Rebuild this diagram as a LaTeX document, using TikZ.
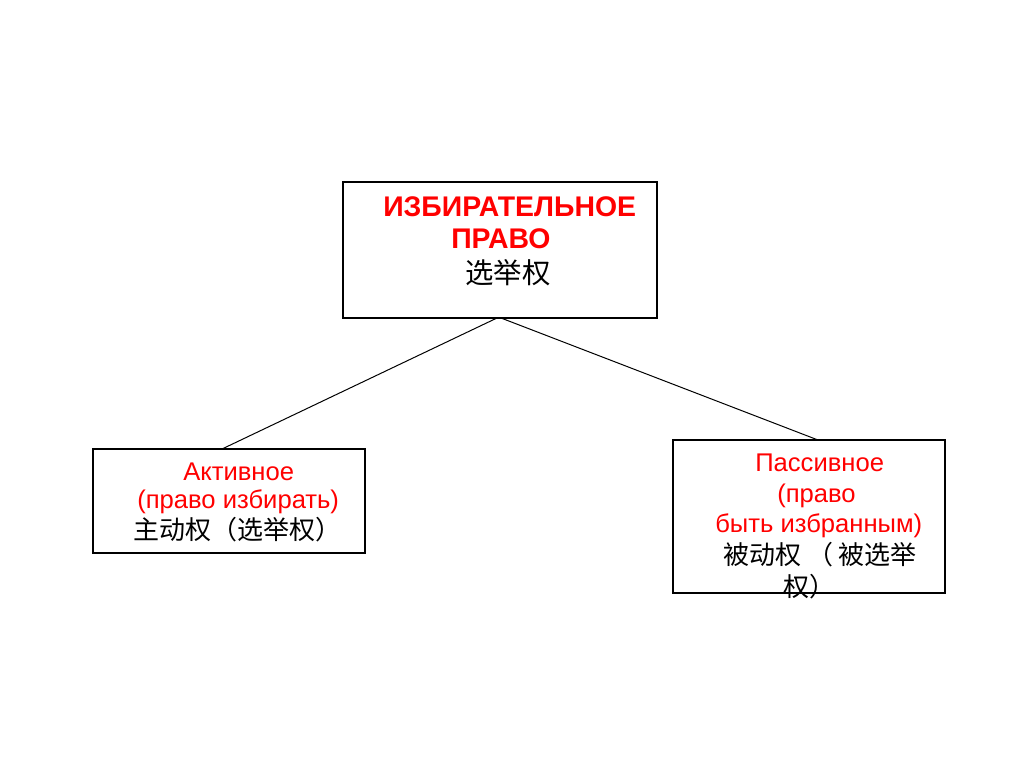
\documentclass[tikz,border=0pt]{standalone}
\usepackage{fontspec}
\setmainfont{Liberation Sans}
\newfontfamily\cjk{Noto Sans CJK SC}
\begin{document}
\begin{tikzpicture}[x=0.75pt,y=-0.75pt,
  box/.style={draw=black,line width=0.8pt,inner sep=0pt,outer sep=0pt,fill=white},
  link/.style={draw=black,line width=0.75pt},
  ru/.style={anchor=base west,inner sep=0pt,text=red,font=\fontsize{19.2}{21}\selectfont},
  rub/.style={anchor=base west,inner sep=0pt,text=red,font=\bfseries\fontsize{21.3}{23}\selectfont},
  zh/.style={anchor=base west,inner sep=0pt,text=black,font=\cjk\fontsize{19.5}{21}\selectfont},
  zhb/.style={anchor=base west,inner sep=0pt,text=black,font=\cjk\fontsize{21.3}{23}\selectfont}]
\useasboundingbox (0,0) rectangle (1024,768);
% boxes
\node[box,minimum width=314*0.75pt,minimum height=136*0.75pt] (top) at (500,250) {};
\node[box,minimum width=272*0.75pt,minimum height=104*0.75pt] (left) at (229,501) {};
\node[box,minimum width=272*0.75pt,minimum height=153*0.75pt] (right) at (809,516.5) {};
% connectors
\draw[link] ([xshift=-2.25pt]top.south) -- ([xshift=-5.25pt]left.north);
\draw[link] ([xshift=0.75pt]top.south) -- ([xshift=6.75pt]right.north);
% top texts
\node[rub] (t1) at (383,216) {ИЗБИРАТЕЛЬНОЕ};
\node[rub] (t2) at (451,248) {ПРАВО};
\node[zhb] (t3) at (465,283) {选举权};
% left texts
\node[ru] (l1) at (183,480) {Активное};
\node[ru] (l2) at (137,508) {(право избирать)};
\node[zh] (l3) at (133,539) {主动权（选举权）};
% right texts
\node[ru] (r1) at (755,471) {Пассивное};
\node[ru] (r2) at (777,502) {(право};
\node[ru] (r3) at (715,532) {быть избранным)};
\node[zh] (r4) at (723,564) {被动权 （ 被选举};
\node[zh] (r5) at (783,596) {权）};
\draw[line width=0.8pt] (right.south west) -- (right.south east);
\end{tikzpicture}
\end{document}
